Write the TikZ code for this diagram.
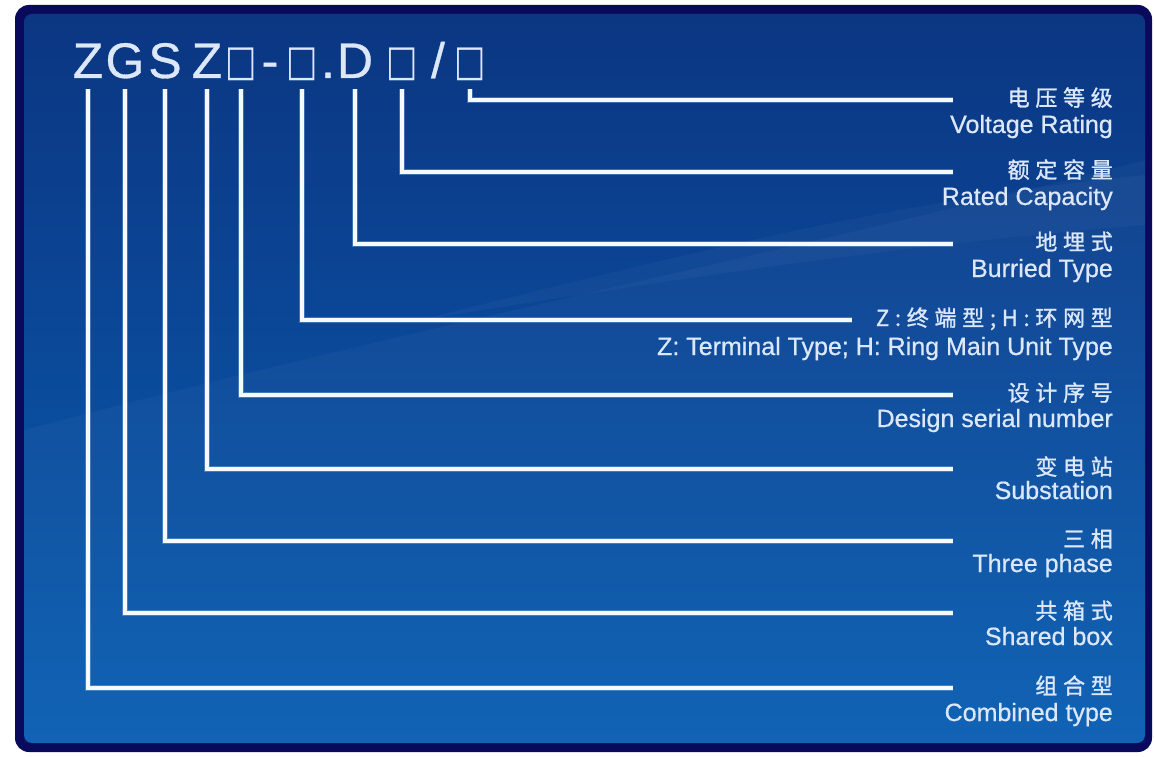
\documentclass[tikz,border=0pt]{standalone}
\usepackage{fontspec}
\usepackage{graphicx}
\setmainfont{Liberation Sans}
\newfontfamily\cjk[LetterSpace=26,FakeBold=1.2]{Noto Sans CJK SC}
\newfontfamily\enfont[FakeBold=0.6]{Liberation Sans}
\newfontfamily\sym{DejaVu Sans}
\definecolor{frame}{HTML}{0A0A5C}
\definecolor{bgtop}{HTML}{0B3682}
\definecolor{bgbot}{HTML}{0A5EB3}
\definecolor{txt}{HTML}{DCE8FA}
\definecolor{ln}{HTML}{F4FAFF}
\definecolor{glow}{HTML}{9CC6F2}
\newcommand{\sqg}{\raisebox{2pt}{\scalebox{0.85}[1.1]{\sym\fontsize{39}{39}\selectfont □}}}
\begin{document}
\begin{tikzpicture}[x=1pt,y=-1pt,
  ch/.style={anchor=base, inner sep=0pt, text=txt, font=\enfont\fontsize{50}{50}\selectfont},
  cn/.style={anchor=base east, inner sep=0pt, text=txt, font=\cjk\fontsize{22}{22}\selectfont},
  en/.style={anchor=base east, inner sep=0pt, text=txt, font=\enfont\fontsize{25}{25}\selectfont},
  connglow/.style={draw=glow, line width=6pt, opacity=0.35, shorten <=11pt},
  conn/.style={draw=ln, line width=4pt, shorten <=11pt}]
\useasboundingbox (0,0) rectangle (1154,757);
\fill[white] (0,0) rectangle (1154,757);
\fill[frame, rounded corners=14pt] (15,5) rectangle (1152,752);
\shade[top color=bgtop, bottom color=bgbot, rounded corners=8pt] (24,14) rectangle (1145,743);
\fill[white, opacity=0.03] (24,743) -- (24,430) .. controls (400,330) and (800,250) .. (1145,160) -- (1145,743) -- cycle;
\fill[white, opacity=0.03] (420,320) .. controls (700,250) and (900,200) .. (1145,175) -- (1145,225) .. controls (900,245) and (700,275) .. (420,320) -- cycle;

% title characters
\node[ch] (c1) at (88,78) {Z};
\node[ch] (c2) at (125,78) {G};
\node[ch] (c3) at (165,78) {S};
\node[ch] (c4) at (207,78) {Z};
\node[ch] (c5) at (241,78) {\sqg};
\node[ch] (c6) at (270,78) {-};
\node[ch] (c7) at (302,78) {\sqg};
\node[ch] (c8) at (328,78) {.};
\node[ch] (c9) at (355,78) {D};
\node[ch] (c10) at (402,78) {\sqg};
\node[ch] (c11) at (438,78) {/};
\node[ch] (c12) at (470,78) {\sqg};

% labels
\node[cn] (z1) at (1113,106) {电压等级};
\node[en] (e1) at (1113,133) {Voltage Rating};
\node[cn] (z2) at (1113,178) {额定容量};
\node[en] (e2) at (1113,205) {Rated Capacity};
\node[cn] (z3) at (1113,250) {地埋式};
\node[en] (e3) at (1113,277) {Burried Type};
\node[cn] (z4) at (1113,326) {Z:终端型;H:环网型};
\node[en] (e4) at (1113,355) {Z: Terminal Type; H: Ring Main Unit Type};
\node[cn] (z5) at (1113,401) {设计序号};
\node[en] (e5) at (1113,427) {Design serial number};
\node[cn] (z6) at (1113,475) {变电站};
\node[en] (e6) at (1113,499) {Substation};
\node[cn] (z7) at (1113,547) {三相};
\node[en] (e7) at (1113,572) {Three phase};
\node[cn] (z8) at (1113,619) {共箱式};
\node[en] (e8) at (1113,645) {Shared box};
\node[cn] (z9) at (1113,694) {组合型};
\node[en] (e9) at (1113,721) {Combined type};

% line ends
\coordinate (p1) at (953,100);
\coordinate (p2) at (953,172);
\coordinate (p3) at (953,244);
\coordinate (p4) at (852,320);
\coordinate (p5) at (953,395);
\coordinate (p6) at (953,469);
\coordinate (p7) at (953,541);
\coordinate (p8) at (953,613);
\coordinate (p9) at (953,688);

\foreach \s in {connglow,conn}{
  \draw[\s] (c12.base) |- (p1);
  \draw[\s] (c10.base) |- (p2);
  \draw[\s] (c9.base) |- (p3);
  \draw[\s] (c7.base) |- (p4);
  \draw[\s] (c5.base) |- (p5);
  \draw[\s] (c4.base) |- (p6);
  \draw[\s] (c3.base) |- (p7);
  \draw[\s] (c2.base) |- (p8);
  \draw[\s] (c1.base) |- (p9);
}
\end{tikzpicture}
\end{document}
